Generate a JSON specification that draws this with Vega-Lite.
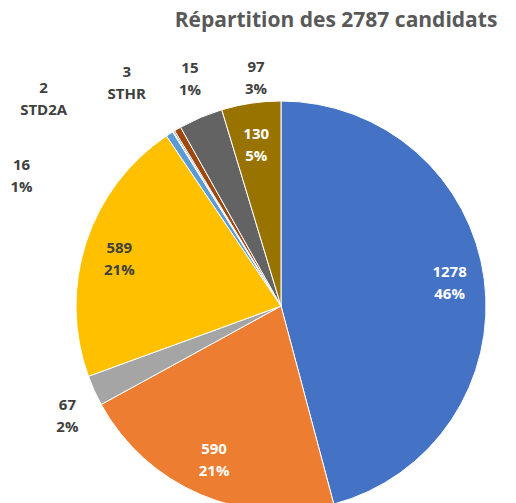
{
  "$schema": "https://vega.github.io/schema/vega-lite/v6.json",
  "width": 562,
  "height": 522,
  "autosize": "none",
  "padding": {"left": 0, "top": 45, "right": 0, "bottom": 0},
  "background": "white",
  "view": {"stroke": null},
  "title": {"text": "Répartition des 2787 candidats", "anchor": "middle", "dx": 55, "font": "Open Sans", "fontSize": 21, "fontWeight": "bold", "color": "#595959", "offset": 14},
  "data": {"values": [
    {"cat": "s1", "value": 1278, "ord": 1, "label": "1278\n46%"},
    {"cat": "s2", "value": 590, "ord": 2, "label": "590\n21%"},
    {"cat": "s3", "value": 67, "ord": 3, "label": "67\n2%"},
    {"cat": "s4", "value": 589, "ord": 4, "label": "589\n21%"},
    {"cat": "s5", "value": 16, "ord": 5, "label": "16\n1%"},
    {"cat": "STD2A", "value": 2, "ord": 6, "label": "2\nSTD2A"},
    {"cat": "STHR", "value": 3, "ord": 7, "label": "3\nSTHR"},
    {"cat": "s8", "value": 15, "ord": 8, "label": "15\n1%"},
    {"cat": "s9", "value": 97, "ord": 9, "label": "97\n3%"},
    {"cat": "s10", "value": 130, "ord": 10, "label": "130\n5%"}
  ]},
  "encoding": {
    "theta": {"field": "value", "type": "quantitative", "stack": true},
    "order": {"field": "ord", "type": "quantitative"}
  },
  "layer": [
    {
      "mark": {"type": "arc", "outerRadius": 205, "stroke": "white", "strokeWidth": 1},
      "encoding": {
        "color": {"field": "cat", "type": "nominal", "legend": null,
          "scale": {"domain": ["s1", "s2", "s3", "s4", "s5", "STD2A", "STHR", "s8", "s9", "s10"],
                    "range": ["#4472C4", "#ED7D31", "#A5A5A5", "#FFC000", "#5B9BD5", "#70AD47", "#264478", "#9E480E", "#636363", "#997300"]}}
      }
    },
    {
      "mark": {"type": "text", "font": "Open Sans", "fontWeight": "bold", "fontSize": 15, "lineBreak": "\n", "lineHeight": 22,
        "radius": {"expr": "datum.value > 100 ? 170 : 240"},
        "dx": {"expr": "datum.value == 67 ? 5 : datum.value == 16 ? -129 : datum.value == 2 ? -111 : datum.value == 3 ? -29 : datum.value == 15 ? 30 : datum.value == 97 ? 69 : 0"},
        "dy": {"expr": "datum.value == 1278 ? -12 : datum.value == 590 ? -13 : datum.value == 589 ? -6 : datum.value == 130 ? -4 : datum.value == 67 ? 0 : datum.value == 16 ? 60 : datum.value == 2 ? -14 : datum.value == 3 ? -29 : datum.value == 15 ? -31 : datum.value == 97 ? -18 : 0"}},
      "encoding": {
        "text": {"field": "label", "type": "nominal"},
        "color": {"condition": {"test": "datum.value == 1278 || datum.value == 590 || datum.value == 130", "value": "white"}, "value": "#404040"}
      }
    }
  ]
}
